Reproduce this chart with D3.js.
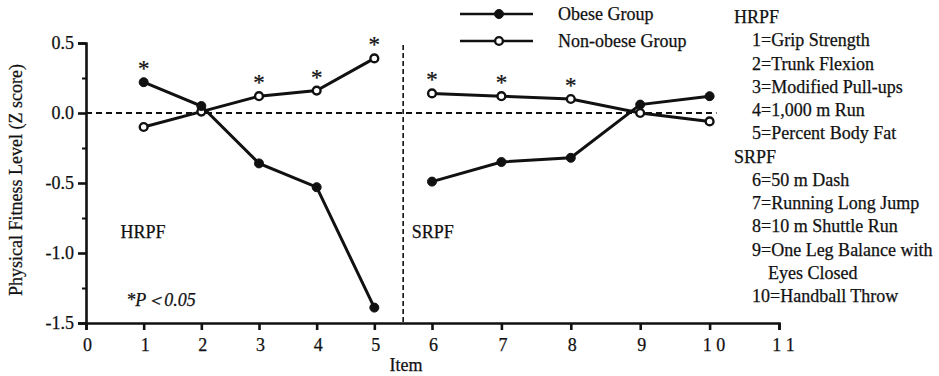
<!DOCTYPE html>
<html><head><meta charset="utf-8">
<script src="https://cdn.jsdelivr.net/npm/d3@7"></script>
<style>
body{margin:0;background:#fff;}
text{font-family:"Liberation Serif","Times New Roman",serif;fill:#111;stroke:#111;stroke-width:0.25px;}
</style></head>
<body><svg id="c" width="939" height="376"></svg>
<script>
const items = [1,2,3,4,5,6,7,8,9,10];
const obese = [0.22,0.05,-0.36,-0.53,-1.39,-0.49,-0.35,-0.32,0.06,0.12];
const nonObese = [-0.10,0.01,0.12,0.16,0.39,0.14,0.12,0.10,0.00,-0.06];
const sigItems = [1,3,4,5,6,7,8];
const xTicks = [0,1,2,3,4,5,6,7,8,9,10,11];
const xTickLabels = ["0","1","2","3","4","5","6","7","8","9","1 0","1 1"];
const yTicks = [0.5,0.0,-0.5,-1.0,-1.5];
const yMinor = [0.25,-0.25,-0.75,-1.25];
const groups = [[1,2,3,4,5],[6,7,8,9,10]];
const legendItems = ["HRPF","1=Grip Strength","2=Trunk Flexion","3=Modified Pull-ups","4=1,000 m Run","5=Percent Body Fat","SRPF","6=50 m Dash","7=Running Long Jump","8=10 m Shuttle Run","9=One Leg Balance with","Eyes Closed","10=Handball Throw"];
const legendIndent = [0,1,1,1,1,1,0,1,1,1,1,2,1];

const svg = d3.select("#c");
const x = d3.scaleLinear().domain([0,6,11]).range([86,432,779]);
const y = d3.scaleLinear().domain([-1.5,0.5]).range([323,43]);
const FS = 18;

// zero dashed line
svg.append("line").attr("x1",x(0)).attr("x2",x(10.1)).attr("y1",y(0)).attr("y2",y(0))
  .attr("stroke","#111").attr("stroke-width",2.2).attr("stroke-dasharray","6,4");
// vertical divider
svg.append("line").attr("x1",x(5.5)).attr("x2",x(5.5)).attr("y1",y(0.5)+2).attr("y2",y(-1.5))
  .attr("stroke","#111").attr("stroke-width",1.6).attr("stroke-dasharray","5,3");

// y axis
const yAx = svg.append("g").attr("transform",`translate(${x(0)},0)`)
  .call(d3.axisLeft(y).tickValues(yTicks).tickSize(8).tickPadding(4).tickFormat(d=>d3.format(".1f")(d).replace("−","-")));
yAx.select(".domain").attr("stroke","#111").attr("stroke-width",2.6);
yAx.selectAll(".tick line").attr("stroke","#111").attr("stroke-width",2.6);
yAx.selectAll(".tick text").attr("font-size",FS).attr("font-family","Liberation Serif").attr("fill","#111");
const yMi = svg.append("g").attr("transform",`translate(${x(0)},0)`)
  .call(d3.axisLeft(y).tickValues(yMinor).tickSize(4).tickFormat(""));
yMi.select(".domain").remove();
yMi.selectAll(".tick line").attr("stroke","#111").attr("stroke-width",2);

// x axis
const xAx = svg.append("g").attr("transform",`translate(0,${y(-1.5)})`)
  .call(d3.axisBottom(x).tickValues(xTicks).tickSize(7).tickPadding(8).tickFormat((d,i)=>xTickLabels[i]));
xAx.select(".domain").attr("stroke","#111").attr("stroke-width",2.6);
xAx.selectAll(".tick line").attr("stroke","#111").attr("stroke-width",2.6);
xAx.selectAll(".tick text").attr("font-size",FS).attr("font-family","Liberation Serif").attr("fill","#111")
  .attr("dx",(d,i)=>xTickLabels[i].length>1?4:1).style("white-space","pre");

// axis titles
svg.append("text").attr("x",x(5.55)).attr("y",371).attr("text-anchor","middle").attr("font-size",FS).text("Item");
svg.append("text").attr("transform",`translate(22,${(y(0.5)+y(-1.5))/2-3}) rotate(-90)`).attr("text-anchor","middle").attr("font-size",FS).text("Physical Fitness Level (Z score)");

// series
const line = d3.line().x(d=>x(d[0])).y(d=>y(d[1]));
function drawSeries(vals, filled){
  groups.forEach(g=>{
    const pts = g.map(i=>[i, vals[items.indexOf(i)]]);
    svg.append("path").attr("d",line(pts)).attr("fill","none").attr("stroke","#111").attr("stroke-width",3);
  });
  svg.selectAll(null).data(items).enter().append("circle")
    .attr("cx",d=>x(d)).attr("cy",(d,i)=>y(vals[i])).attr("r",filled?4.5:3.9)
    .attr("fill",filled?"#111":"#fff").attr("stroke","#111").attr("stroke-width",filled?1:2.4);
}
drawSeries(nonObese,false);
drawSeries(obese,true);

// significance stars
svg.selectAll(null).data(sigItems).enter().append("text")
  .attr("x",d=>x(d)).attr("y",d=>{const i=items.indexOf(d);return y(Math.max(obese[i],nonObese[i]))-6;})
  .attr("text-anchor","middle").attr("font-size",23).text("*");

// group labels
svg.append("text").attr("x",x(0.6)).attr("y",238).attr("font-size",FS).text("HRPF");
svg.append("text").attr("x",x(5.65)).attr("y",238).attr("font-size",FS).text("SRPF");
svg.append("text").attr("x",x(0.7)).attr("y",306).attr("font-size",FS).attr("font-style","italic").text("*P＜0.05");

// series legend
const leg = [["Obese Group",true],["Non-obese Group",false]];
leg.forEach((l,i)=>{
  const ly = 14 + i*27;
  svg.append("line").attr("x1",460).attr("x2",533).attr("y1",ly).attr("y2",ly).attr("stroke","#111").attr("stroke-width",2.6);
  svg.append("circle").attr("cx",499).attr("cy",ly).attr("r",l[1]?4.5:3.9).attr("fill",l[1]?"#111":"#fff").attr("stroke","#111").attr("stroke-width",l[1]?1:2.4);
  svg.append("text").attr("x",558).attr("y",ly+6).attr("font-size",FS).text(l[0]);
});

// item legend
svg.selectAll(null).data(legendItems).enter().append("text")
  .attr("x",(d,i)=>734 + legendIndent[i]*18 + (legendIndent[i]===2?-2:0))
  .attr("y",(d,i)=>23 + i*23.25).attr("font-size",FS).text(d=>d);
</script></body></html>
